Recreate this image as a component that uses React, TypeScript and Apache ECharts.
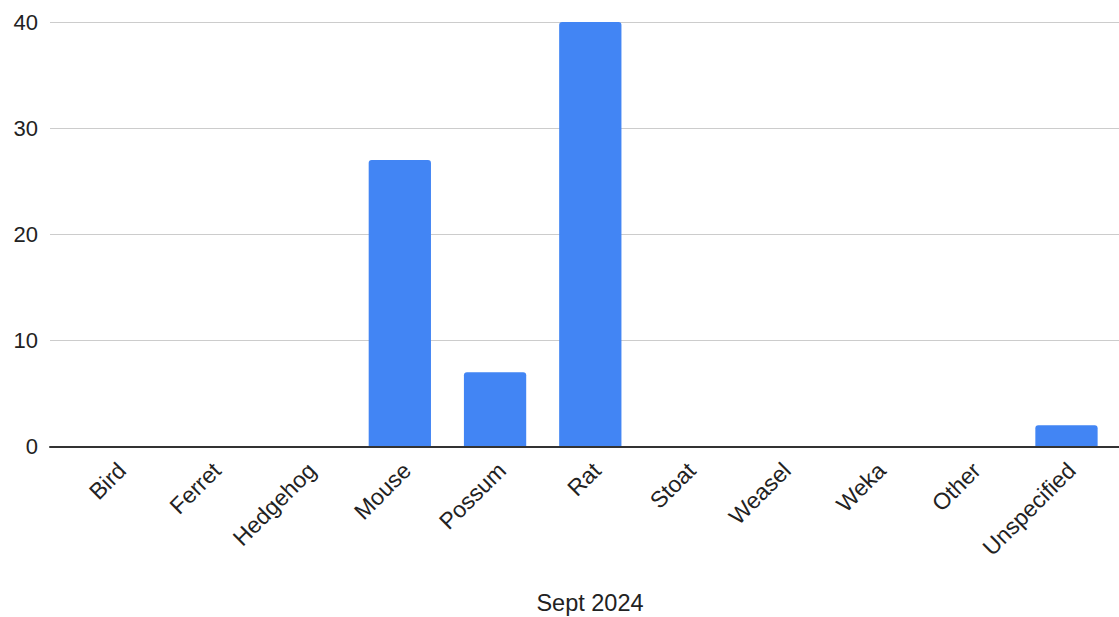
import React, { useEffect, useRef } from "react";
import * as echarts from "echarts";

const categories = ["Bird", "Ferret", "Hedgehog", "Mouse", "Possum", "Rat", "Stoat", "Weasel", "Weka", "Other", "Unspecified"];
const counts = [0, 0, 0, 27, 7, 40, 0, 0, 0, 0, 2];
const yMin = 0;
const yMax = 40;
const yInterval = 10;
const xTitle = "Sept 2024";

const FONT = '"Liberation Sans", Arial, sans-serif';

export default function App() {
  const ref = useRef<HTMLDivElement>(null);
  useEffect(() => {
    document.body.style.margin = "0";
    const chart = echarts.init(ref.current!, null, { renderer: "svg" });
    const top = 22;
    const bottom = 170.5;
    const plotW = 1047.6;
    chart.setOption({
      animation: false,
      backgroundColor: "#ffffff",
      textStyle: { fontFamily: FONT },
      grid: [
        { left: 50, right: 0, top, bottom },
        { left: 66.5, width: plotW, top, bottom },
        { left: 74.5, width: plotW, top, bottom },
      ],
      xAxis: [
        {
          gridIndex: 0, type: "value", min: 0, max: 1,
          axisLine: { show: true, onZero: false, lineStyle: { color: "#333333", width: 2 } },
          axisTick: { show: false }, axisLabel: { show: false }, splitLine: { show: false },
          z: 5,
        },
        {
          gridIndex: 1, type: "category", data: categories,
          axisLine: { show: false }, axisTick: { show: false }, axisLabel: { show: false },
        },
        {
          gridIndex: 2, type: "category", data: categories,
          axisLine: { show: false }, axisTick: { show: false },
          axisLabel: { show: true, rotate: 45, interval: 0, margin: 20, fontSize: 23, color: "#222222", fontFamily: FONT },
        },
      ],
      yAxis: [
        {
          gridIndex: 0, type: "value", min: yMin, max: yMax, interval: yInterval,
          axisLine: { show: false }, axisTick: { show: false },
          axisLabel: { margin: 12, fontSize: 22, color: "#222222", fontFamily: FONT },
          splitLine: { show: true, lineStyle: { color: "#cccccc", width: 1 } },
        },
        { gridIndex: 1, type: "value", min: yMin, max: yMax, show: false },
        { gridIndex: 2, type: "value", min: yMin, max: yMax, show: false },
      ],
      series: [
        {
          type: "bar",
          xAxisIndex: 1,
          yAxisIndex: 1,
          data: counts,
          barWidth: "65.4%",
          itemStyle: { color: "#4285F4", borderRadius: [3, 3, 0, 0] },
          z: 4,
        },
      ],
      graphic: [
        {
          type: "text",
          x: 590,
          y: 603,
          style: {
            text: xTitle,
            font: `23.5px ${FONT}`,
            fill: "#222222",
            align: "center",
            verticalAlign: "middle",
          },
        },
      ],
    });
    return () => chart.dispose();
  }, []);
  return <div ref={ref} style={{ width: 1119, height: 617 }} />;
}
